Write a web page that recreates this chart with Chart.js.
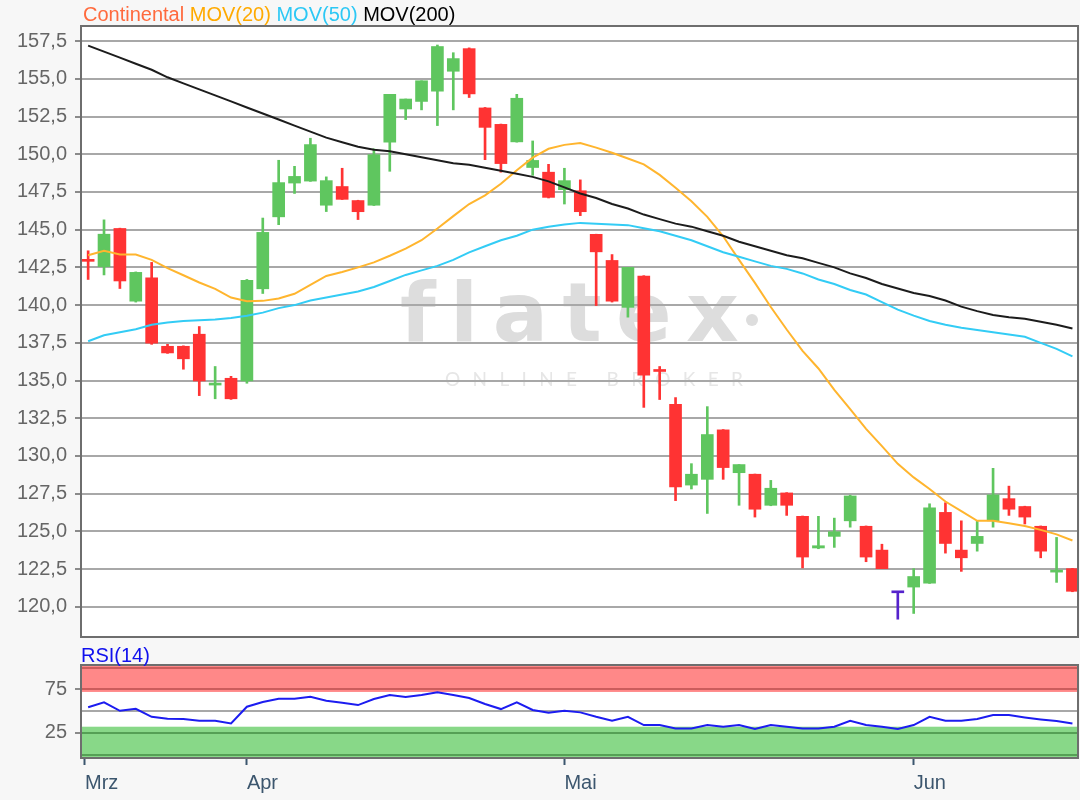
<!DOCTYPE html>
<html>
<head>
<meta charset="utf-8">
<script src="https://cdn.jsdelivr.net/npm/chart.js@4.4.1/dist/chart.umd.min.js"></script>
<style>
  html, body { margin: 0; padding: 0; background: #f7f7f7; }
  #wrap { position: relative; width: 1080px; height: 800px; font-family: "Liberation Sans", Arial, sans-serif; }
  canvas { position: absolute; left: 0; top: 0; }
  .legend { position: absolute; left: 83px; top: 4px; font-size: 20px; line-height: 20px; white-space: nowrap; }
  .rsi-title { position: absolute; left: 81px; top: 645px; font-size: 20px; line-height: 20px; color: #1010ee; }
</style>
</head>
<body>
<div id="wrap">
  <canvas id="main" width="1080" height="800"></canvas>
  <canvas id="rsi" width="1080" height="800"></canvas>
  <div class="legend"><span style="color:#ff6a3d">Continental</span> <span style="color:#ffaa00">MOV(20)</span> <span style="color:#2cc8f5">MOV(50)</span> <span style="color:#000">MOV(200)</span></div>
  <div class="rsi-title">RSI(14)</div>
</div>
<script>
// daily candles, index 0 = first day shown
const opens  = [143.0, 142.55, 145.08, 140.26, 141.8, 137.27, 137.27, 138.07, 134.7, 135.15,
                134.97, 141.08, 145.85, 148.09, 148.22, 146.62, 147.86, 146.93, 146.62, 150.8,
                153.0, 153.5, 154.18, 155.5, 157.0, 153.07, 151.98, 150.82, 149.12, 148.81,
                147.65, 147.58, 144.69, 142.96, 139.85, 141.93, 135.7, 133.43, 128.07, 128.45,
                131.73, 128.89, 128.79, 126.73, 127.55, 126.0, 123.9, 124.67, 125.7, 125.34,
                123.76, 120.93, 121.31, 121.57, 126.26, 123.76, 124.2, 125.7, 127.17, 126.65,
                125.34, 122.3, 122.53];
const highs  = [143.6, 145.65, 145.1, 142.2, 142.83, 137.4, 137.3, 138.58, 135.93, 135.28,
                141.7, 145.77, 149.6, 149.2, 151.06, 148.5, 149.07, 146.95, 150.36, 153.97,
                153.66, 154.87, 157.24, 156.73, 157.05, 153.1, 152.0, 153.97, 150.88, 149.33,
                149.07, 148.3, 144.7, 143.35, 142.5, 141.95, 135.93, 133.87, 129.49, 133.27,
                131.75, 129.43, 128.8, 128.38, 127.57, 126.02, 126.0, 125.88, 127.4, 125.36,
                124.15, 120.93, 122.53, 126.83, 126.9, 125.7, 125.7, 129.18, 128.0, 126.67,
                125.36, 124.6, 122.55];
const lows   = [141.7, 142.0, 141.1, 140.2, 137.4, 136.8, 135.75, 134.0, 133.79, 133.75,
                134.82, 140.77, 145.33, 147.4, 148.2, 146.2, 147.0, 145.67, 146.6, 148.87,
                152.3, 152.94, 151.9, 152.94, 153.76, 149.64, 148.81, 150.8, 148.6, 147.1,
                146.7, 145.93, 139.97, 140.2, 139.2, 133.22, 133.74, 127.04, 127.81, 126.19,
                128.45, 126.73, 125.95, 126.7, 126.06, 122.58, 123.85, 123.94, 125.28, 122.99,
                122.53, 119.18, 119.56, 121.55, 123.56, 122.35, 123.69, 125.28, 126.06, 125.49,
                123.25, 121.62, 121.0];
const closes = [142.9, 144.7, 141.6, 142.17, 137.48, 136.83, 136.44, 134.97, 134.8, 133.79,
                141.65, 144.82, 148.12, 148.53, 150.64, 148.25, 147.01, 146.19, 149.97, 153.97,
                153.66, 154.87, 157.14, 156.34, 154.0, 151.78, 149.38, 153.71, 149.59, 147.14,
                148.25, 146.19, 143.53, 140.26, 142.5, 135.36, 135.6, 127.94, 128.79, 131.42,
                129.23, 129.43, 126.47, 127.86, 126.73, 123.3, 124.05, 124.98, 127.35, 123.3,
                122.53, 120.93, 122.01, 126.57, 124.2, 123.25, 124.67, 127.42, 126.47, 125.95,
                123.69, 122.4, 121.03];

const mov20  = [143.3, 143.6, 143.35, 143.35, 143.0, 142.45, 141.98, 141.5, 141.08, 140.5,
                140.26, 140.28, 140.44, 140.75, 141.34, 141.93, 142.19, 142.5, 142.83, 143.27,
                143.74, 144.3, 145.08, 145.9, 146.7, 147.27, 148.04, 148.94, 149.77, 150.36,
                150.62, 150.75, 150.44, 150.1, 149.72, 149.33, 148.63, 147.78, 146.88, 145.85,
                144.56, 143.0, 141.47, 139.87, 138.38, 136.96, 135.8, 134.38, 133.1, 131.8,
                130.65, 129.48, 128.58, 127.81, 126.98, 126.34, 125.7, 125.7, 125.54, 125.36,
                125.1, 124.8, 124.4];
const mov50  = [137.6, 138.0, 138.2, 138.4, 138.7, 138.85, 138.95, 139.0, 139.05, 139.15,
                139.3, 139.5, 139.8, 140.0, 140.3, 140.5, 140.7, 140.9, 141.2, 141.6,
                142.0, 142.3, 142.6, 143.0, 143.5, 143.9, 144.3, 144.6, 145.0, 145.2,
                145.35, 145.45, 145.4, 145.35, 145.3, 145.1, 144.9, 144.6, 144.3, 143.9,
                143.5, 143.2, 142.9, 142.6, 142.4, 142.1, 141.7, 141.4, 141.0, 140.7,
                140.2, 139.7, 139.3, 138.95, 138.7, 138.5, 138.35, 138.2, 138.05, 137.9,
                137.5, 137.1, 136.6];
const mov200 = [157.2, 156.8, 156.4, 156.0, 155.6, 155.1, 154.7, 154.3, 153.9, 153.5,
                153.1, 152.7, 152.3, 151.9, 151.5, 151.1, 150.8, 150.5, 150.3, 150.2,
                150.0, 149.8, 149.6, 149.4, 149.3, 149.1, 148.9, 148.7, 148.5, 148.2,
                147.8, 147.4, 147.1, 146.7, 146.4, 146.0, 145.7, 145.4, 145.2, 144.9,
                144.6, 144.2, 143.9, 143.6, 143.3, 143.1, 142.8, 142.5, 142.1, 141.8,
                141.4, 141.1, 140.8, 140.6, 140.3, 139.9, 139.6, 139.35, 139.2, 139.1,
                138.9, 138.7, 138.45];
const rsi14  = [54.3, 60.0, 50.3, 52.6, 43.4, 41.1, 40.8, 38.8, 38.8, 35.8,
                55.0, 60.4, 64.2, 64.2, 66.5, 61.9, 59.6, 56.9, 63.8, 68.4,
                66.1, 68.4, 71.5, 68.4, 65.0, 58.1, 52.3, 60.0, 51.2, 48.0,
                50.3, 48.5, 43.4, 38.8, 43.4, 33.9, 33.9, 30.0, 30.0, 33.9,
                31.9, 33.9, 29.3, 33.9, 31.9, 30.0, 30.0, 31.9, 38.8, 33.9,
                31.9, 29.3, 33.9, 43.4, 38.8, 38.8, 40.8, 45.4, 45.4, 42.7,
                40.4, 38.5, 35.8];

const priceTicks = [120, 122.5, 125, 127.5, 130, 132.5, 135, 137.5, 140, 142.5, 145, 147.5, 150, 152.5, 155, 157.5];
const rsiTicks = [0, 25, 50, 75, 100];
const rsiLabels = [25, 75];
const rsiHigh = [72, 100];
const rsiLow = [0, 32];
const monthTicks = [-0.2, 10, 30, 52];
const monthLabels = ['Mrz', 'Apr', 'Mai', 'Jun'];

const FONT = "'Liberation Sans', Arial, sans-serif";
Chart.defaults.font.family = FONT;
Chart.defaults.font.size = 20;

const xMin = -0.45, xMax = opens.length - 0.65;

const candleColors = opens.map((o, i) => closes[i] > o ? '#5fc65f' : (closes[i] < o ? '#ff3333' : '#5522cc'));
const pts = arr => arr.map((v, i) => ({ x: i, y: v }));

// white plot background, frame
const plotBg = {
  id: 'plotBg',
  beforeDraw(chart) {
    const { ctx, chartArea: a } = chart;
    ctx.save();
    ctx.fillStyle = '#ffffff';
    ctx.fillRect(a.left, a.top, a.right - a.left, a.bottom - a.top);
    ctx.restore();
  },
  afterDraw(chart) {
    const { ctx, chartArea: a } = chart;
    ctx.save();
    ctx.strokeStyle = '#6e6e6e';
    ctx.lineWidth = 2;
    ctx.strokeRect(a.left, a.top, a.right - a.left, a.bottom - a.top);
    ctx.restore();
  }
};

const watermark = {
  id: 'watermark',
  beforeDraw(chart) {
    const ctx = chart.ctx;
    ctx.save();
    ctx.fillStyle = '#dddddd';
    ctx.font = "bold 82px 'DejaVu Sans'";
    ctx.letterSpacing = '0px';
    const w = ctx.measureText('flatex').width;
    ctx.letterSpacing = Math.max(0, (336 - w) / 5) + 'px';
    ctx.fillText('flatex', 400, 341);
    ctx.beginPath();
    ctx.arc(752, 320, 6, 0, Math.PI * 2);
    ctx.fill();
    ctx.fillStyle = '#e6e6e6';
    ctx.font = "19px Lato";
    ctx.letterSpacing = '0px';
    const w2 = ctx.measureText('ONLINE BROKER').width;
    ctx.letterSpacing = Math.max(0, (298 - w2) / 12) + 'px';
    ctx.fillText('ONLINE BROKER', 445, 386);
    ctx.restore();
  }
};

new Chart(document.getElementById('main'), {
  data: {
    datasets: [
      { type: 'line', label: 'MOV(200)', data: pts(mov200), borderColor: '#1c1c1c', borderWidth: 2, pointRadius: 0, order: 1 },
      { type: 'line', label: 'MOV(50)', data: pts(mov50), borderColor: '#33ccf5', borderWidth: 2, pointRadius: 0, order: 1 },
      { type: 'line', label: 'MOV(20)', data: pts(mov20), borderColor: '#ffb52e', borderWidth: 2, pointRadius: 0, order: 1 },
      { type: 'bar', label: 'Body', data: opens.map((o, i) => ({ x: i, y: [o, closes[i]] })),
        backgroundColor: candleColors, barThickness: 12, minBarLength: 2, grouped: false, borderWidth: 0, order: 3 },
      { type: 'bar', label: 'Wick', data: highs.map((h, i) => ({ x: i, y: [lows[i], h] })),
        backgroundColor: candleColors, barThickness: 2, grouped: false, borderWidth: 0, order: 4 }
    ]
  },
  options: {
    responsive: false,
    animation: false,
    layout: { padding: { left: 0, right: 2, top: 26, bottom: 163 } },
    plugins: { legend: { display: false }, tooltip: { enabled: false } },
    scales: {
      x: { type: 'linear', min: xMin, max: xMax, offset: false, display: false },
      y: {
        min: 118.0, max: 158.5,
        afterBuildTicks: s => { s.ticks = priceTicks.map(v => ({ value: v })); },
        afterFit: s => { s.width = 81; },
        ticks: { autoSkip: false, callback: v => v.toFixed(1).replace('.', ','), color: '#666666', padding: 8 },
        grid: { color: '#a8a8a8', lineWidth: 2, tickLength: 6, tickColor: '#8a8a8a' },
        border: { display: false }
      }
    }
  },
  plugins: [plotBg, watermark]
});

const rsiBands = {
  id: 'rsiBands',
  beforeDraw(chart) {
    const { ctx, chartArea: a, scales: { y } } = chart;
    ctx.save();
    ctx.fillStyle = '#ff8888';
    const hBot = y.getPixelForValue(rsiHigh[0]);
    ctx.fillRect(a.left, a.top, a.right - a.left, hBot - a.top);
    ctx.fillStyle = '#88d888';
    const lTop = y.getPixelForValue(rsiLow[1]);
    ctx.fillRect(a.left, lTop, a.right - a.left, a.bottom - lTop);
    ctx.restore();
  }
};

const rsiLineColor = v => v === 50 ? '#a8a8a8' : (v > 50 ? '#cc5c5c' : '#55a055');

new Chart(document.getElementById('rsi'), {
  data: {
    datasets: [
      { type: 'line', label: 'RSI(14)', data: pts(rsi14), borderColor: '#1c1cf0', borderWidth: 2, pointRadius: 0 }
    ]
  },
  options: {
    responsive: false,
    animation: false,
    layout: { padding: { left: 0, right: 2, top: 665, bottom: 0 } },
    plugins: { legend: { display: false }, tooltip: { enabled: false } },
    scales: {
      x: {
        type: 'linear', min: xMin, max: xMax, offset: false,
        afterBuildTicks: s => { s.ticks = monthTicks.map(v => ({ value: v })); },
        afterFit: s => { s.height = 42; },
        ticks: { autoSkip: false, maxRotation: 0, align: 'start', color: '#3c566e', padding: 6,
                 callback: (v, i) => monthLabels[i] },
        grid: { drawOnChartArea: false, tickLength: 7, tickColor: '#3c566e', tickWidth: 2 },
        border: { display: false }
      },
      y: {
        min: -4, max: 103,
        afterBuildTicks: s => { s.ticks = rsiTicks.map(v => ({ value: v })); },
        afterFit: s => { s.width = 81; },
        ticks: { autoSkip: false, color: '#666666', padding: 8, callback: v => rsiLabels.includes(v) ? String(v) : '' },
        grid: {
          lineWidth: 2, tickLength: 6,
          color: c => rsiLineColor(c.tick.value),
          tickColor: c => rsiLabels.includes(c.tick.value) ? '#8a8a8a' : 'rgba(0,0,0,0)'
        },
        border: { display: false }
      }
    }
  },
  plugins: [plotBg, rsiBands]
});
</script>
</body>
</html>
